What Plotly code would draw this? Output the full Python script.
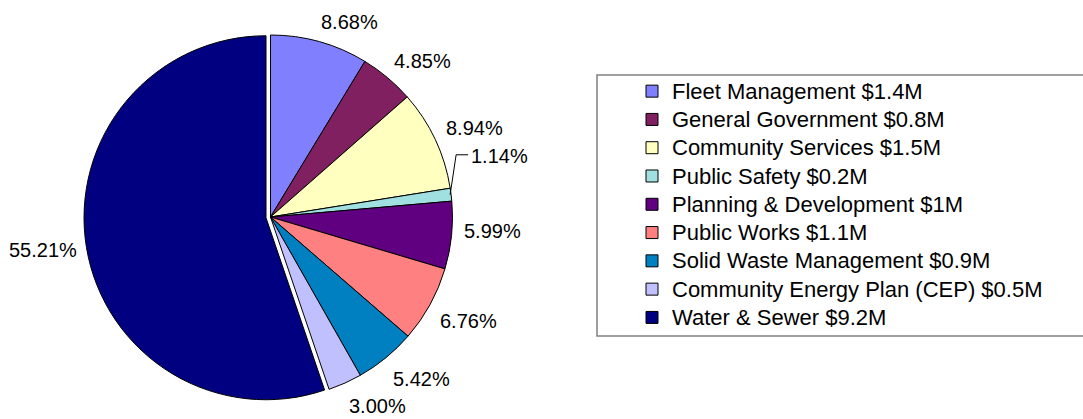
import math
import plotly.graph_objects as go

labels = ["Fleet Management $1.4M", "General Government $0.8M", "Community Services $1.5M",
          "Public Safety $0.2M", "Planning & Development $1M", "Public Works $1.1M",
          "Solid Waste Management $0.9M", "Community Energy Plan (CEP) $0.5M", "Water & Sewer $9.2M"]
percents = [8.68, 4.85, 8.94, 1.14, 5.99, 6.76, 5.42, 3.00, 55.21]
colors = ["#8080FF", "#802060", "#FFFFC0", "#A0E0E0", "#600080", "#FF8080", "#0080C0", "#C0C0FF", "#000080"]
pulls = [0, 0, 0, 0, 0, 0, 0, 0, 0.025]

W, H = 1083, 419
cx, cy, r = 270.5, 217, 182
half = r * (1 + max(pulls))
FONT = "Arial, Liberation Sans, sans-serif"

legend_labels = [f'<span style="font-size:22px">{l}</span>' for l in labels]

fig = go.Figure(go.Pie(
    labels=legend_labels, values=percents, sort=False, direction="clockwise", rotation=0,
    pull=pulls,
    marker=dict(colors=colors, line=dict(color="black", width=1)),
    textinfo="none",
    domain=dict(x=[(cx - half) / W, (cx + half) / W], y=[1 - (cy + half) / H, 1 - (cy - half) / H]),
    hoverinfo="percent",
))

def px(x):
    return x / W

def py(y):
    return 1 - y / H

# percentage labels placed outside each slice, from the slice mid-angles
total = sum(percents)
annotations = []
shapes = [dict(type="rect", xref="paper", yref="paper", x0=px(597), x1=1.02,
               y0=py(336), y1=py(75), line=dict(color="#808080", width=1.5))]
cum = 0.0
LABEL_R = 14
lf = dict(family=FONT, size=20, color="black")
for i, p in enumerate(percents):
    mid = math.radians((cum + p / 2) / total * 360)
    cum += p
    s, c = math.sin(mid), math.cos(mid)
    txt = f"{p:.2f}%"
    if p < 2:  # small slice: label with elbow leader line
        ex, ey = cx + s * (r - 1), cy - c * (r - 1)
        kx, ky = ex + 6, ey - 40
        tx = kx + 12
        shapes.append(dict(type="path", xref="paper", yref="paper",
                           path=f"M{px(ex)},{py(ey)} L{px(kx)},{py(ky)} L{px(tx)},{py(ky)}",
                           line=dict(color="black", width=1)))
        annotations.append(dict(x=px(tx + 1), y=py(ky + 1), xref="paper", yref="paper", text=txt,
                                showarrow=False, xanchor="left", yanchor="middle", font=lf))
        continue
    R = r * (1 + pulls[i]) + LABEL_R
    gx, gy = cx + s * R, cy - c * R
    xa = "left" if s >= 0 else "right"
    ax_ = gx - 4 if s >= 0 else gx + 6
    if c > -0.12:
        ya, ay_ = "bottom", gy + 7
    elif c > -0.2:
        ya, ay_ = "middle", gy
    else:
        ya, ay_ = "top", gy - 3
    annotations.append(dict(x=px(ax_), y=py(ay_), xref="paper", yref="paper", text=txt,
                            showarrow=False, xanchor=xa, yanchor=ya, font=lf))

fig.update_layout(
    width=W, height=H, margin=dict(l=0, r=0, t=0, b=0),
    paper_bgcolor="white", plot_bgcolor="white",
    showlegend=True,
    legend=dict(x=px(632), y=py(72), xanchor="left", yanchor="top",
                font=dict(family=FONT, size=19.45, color="black"),
                bgcolor="rgba(0,0,0,0)", borderwidth=0, traceorder="normal"),
    annotations=annotations,
    shapes=shapes,
)

fig.write_html("out.html", config={"displayModeBar": False},
               post_script="document.body.style.margin='0';")
